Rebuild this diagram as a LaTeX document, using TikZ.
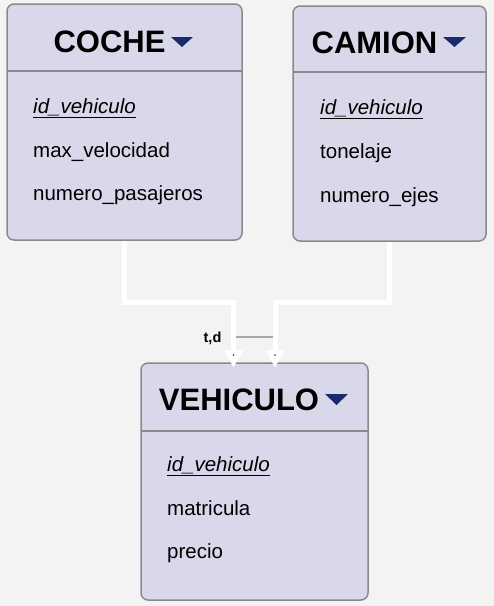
\documentclass[tikz,border=0pt]{standalone}
\usepackage{fontspec}
\setmainfont{Liberation Sans}
\usetikzlibrary{arrows.meta}
\definecolor{bgc}{HTML}{F3F3F3}
\definecolor{boxfill}{HTML}{D9D8EA}
\definecolor{boxline}{HTML}{8A8A8A}
\definecolor{navy}{HTML}{1B2A6B}
\definecolor{midline}{HTML}{A8A8A8}
\tikzset{
  entity/.style={draw=boxline, line width=1.5pt, fill=boxfill, rounded corners=7pt, inner sep=0pt},
  title/.style={font=\fontsize{31}{31}\selectfont\bfseries, anchor=base, inner sep=0pt},
  attr/.style={font=\fontsize{20.5}{20.5}\selectfont, anchor=base west, inner sep=0pt},
  sepline/.style={draw=boxline, line width=1.5pt},
  menu/.style={fill=navy},
  conn/.style={draw=white, line width=5pt, -{Triangle[width=19pt,length=17pt,line width=0pt,fill=white]}},
}
\begin{document}
\begin{tikzpicture}[x=1pt,y=-1pt]
\useasboundingbox (0,0) rectangle (494,606);
\fill[bgc] (0,0) rectangle (494,606);

% COCHE
\node[entity, minimum width=235pt, minimum height=236pt] (coche) at (124.5,122) {};
\draw[sepline] (7,71) -- (242,71);
\node[title] (cocheT) at (109.5,52.5) {COCHE};
\fill[menu] (171,37) -- (193,37) -- (182,47) -- cycle;
\node[attr] (c1) at (33,113) {\underline{\textit{id\_vehiculo}}};
\node[attr] (c2) at (33,157) {max\_velocidad};
\node[attr] (c3) at (33,200) {numero\_pasajeros};

% CAMION
\node[entity, minimum width=193pt, minimum height=235pt] (camion) at (389.5,123.5) {};
\draw[sepline] (293,72) -- (486,72);
\node[title] (camionT) at (374.5,53) {CAMION};
\fill[menu] (443,37) -- (466,37) -- (454.5,47) -- cycle;
\node[attr] (k1) at (320,114) {\underline{\textit{id\_vehiculo}}};
\node[attr] (k2) at (320,158) {tonelaje};
\node[attr] (k3) at (320,202) {numero\_ejes};

% VEHICULO
\node[entity, minimum width=227pt, minimum height=237pt] (vehiculo) at (254.5,481.5) {};
\draw[sepline] (141,431) -- (368,431);
\node[title] (vehiculoT) at (239,410) {VEHICULO};
\fill[menu] (325,394) -- (348,394) -- (336.5,405) -- cycle;
\node[attr] (v1) at (167,471) {\underline{\textit{id\_vehiculo}}};
\node[attr] (v2) at (167,515) {matricula};
\node[attr] (v3) at (167,558) {precio};

% connectors
\draw[conn] (coche.south) -- ++(0,62) -| ([shift={(-21,5)}]vehiculo.north);
\draw[conn] (camion.south) -- ++(0,61) -| ([shift={(20.5,5)}]vehiculo.north);
\fill[navy] (233.5,355) circle (0.8);
\fill[navy] (275,355) circle (0.8);

% disjoint / total marker
\coordinate (m1) at (236,337);
\coordinate (m2) at (272.5,337);
\draw[midline, line width=1.5pt] (m1) -- (m2);
\node[font=\fontsize{14.5}{14.5}\selectfont\bfseries, inner sep=0pt] (td) at (212.5,338) {t,d};
\end{tikzpicture}
\end{document}
